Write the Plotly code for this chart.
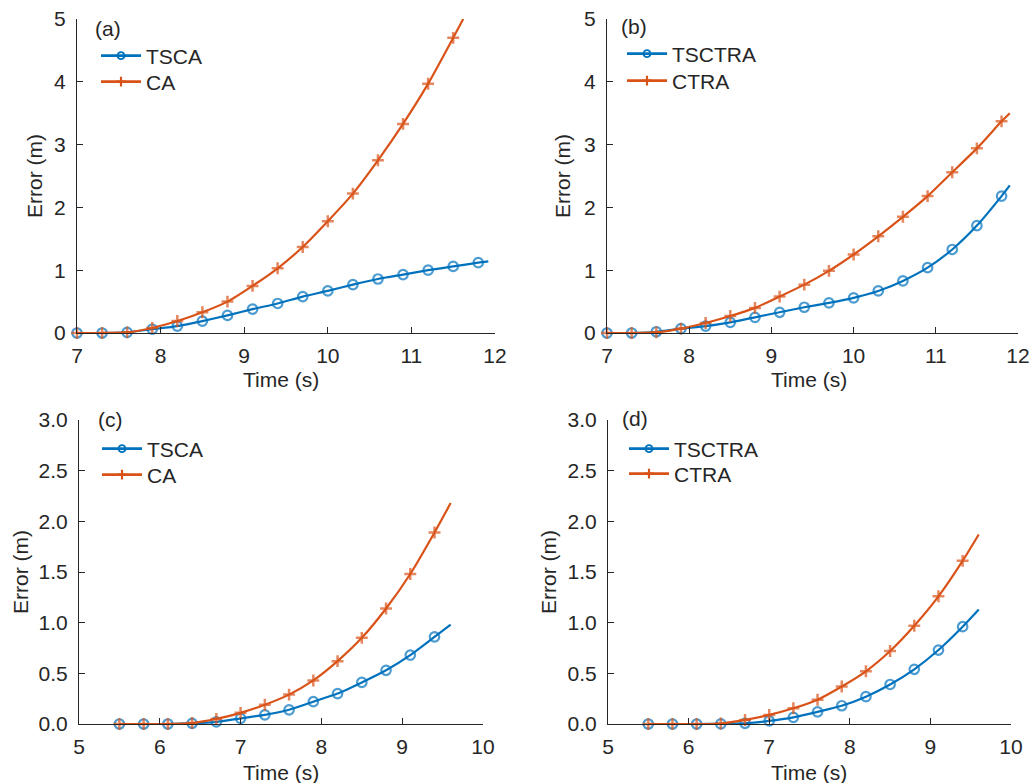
import plotly.graph_objects as go

W, H = 1029, 783

# ---------------- data ----------------
# panel (a)
t_a = [7.0, 7.3, 7.6, 7.9, 8.2, 8.5, 8.8, 9.1, 9.4, 9.7, 10.0, 10.3, 10.6, 10.9, 11.2, 11.5, 11.8, 11.92]
tsca_a = [0.0, 0.0, 0.01, 0.06, 0.11, 0.19, 0.28, 0.38, 0.47, 0.58, 0.67, 0.77, 0.86, 0.93, 1.0, 1.06, 1.12, 1.14]
t_a_ca = [7.0, 7.3, 7.6, 7.9, 8.2, 8.5, 8.8, 9.1, 9.4, 9.7, 10.0, 10.3, 10.6, 10.9, 11.2, 11.5, 11.62]
ca_a = [0.0, 0.0, 0.01, 0.08, 0.19, 0.33, 0.50, 0.75, 1.03, 1.37, 1.78, 2.22, 2.75, 3.33, 3.97, 4.70, 5.0]

# panel (b)
t_b = [7.0, 7.3, 7.6, 7.9, 8.2, 8.5, 8.8, 9.1, 9.4, 9.7, 10.0, 10.3, 10.6, 10.9, 11.2, 11.5, 11.8, 11.9]
tsctra_b = [0.0, 0.0, 0.02, 0.07, 0.11, 0.17, 0.25, 0.33, 0.41, 0.48, 0.56, 0.67, 0.83, 1.04, 1.33, 1.71, 2.18, 2.35]
ctra_b = [0.0, 0.0, 0.01, 0.07, 0.16, 0.27, 0.40, 0.58, 0.77, 0.99, 1.25, 1.54, 1.85, 2.18, 2.56, 2.94, 3.37, 3.50]

# panel (c)
t_c = [5.5, 5.8, 6.1, 6.4, 6.7, 7.0, 7.3, 7.6, 7.9, 8.2, 8.5, 8.8, 9.1, 9.4, 9.6]
tsca_c = [0.0, 0.0, 0.0, 0.007, 0.02, 0.056, 0.09, 0.14, 0.22, 0.30, 0.41, 0.53, 0.68, 0.86, 0.98]
ca_c = [0.0, 0.0, 0.0, 0.01, 0.05, 0.11, 0.19, 0.29, 0.43, 0.62, 0.85, 1.14, 1.48, 1.89, 2.18]

# panel (d)
t_d = [5.5, 5.8, 6.1, 6.4, 6.7, 7.0, 7.3, 7.6, 7.9, 8.2, 8.5, 8.8, 9.1, 9.4, 9.6]
tsctra_d = [0.0, 0.0, 0.0, 0.002, 0.007, 0.03, 0.066, 0.12, 0.18, 0.27, 0.39, 0.54, 0.73, 0.96, 1.13]
ctra_d = [0.0, 0.0, 0.0, 0.005, 0.04, 0.09, 0.155, 0.24, 0.37, 0.52, 0.72, 0.97, 1.26, 1.61, 1.87]

panel_labels = ["(a)", "(b)", "(c)", "(d)"]
x_title = "Time (s)"
y_title = "Error (m)"

# ---------------- style ----------------
BLUE = "#0072BD"
ORANGE = "#D95319"
AX = "#262626"
FONT = "Liberation Sans, Arial, Helvetica, sans-serif"
FS = 21


def px_x(p):
    return p / W


def px_y(p):
    return 1 - p / H


fig = go.Figure()

blue_line = dict(color=BLUE, width=2.2, shape="spline", smoothing=0.6)
orange_line = dict(color=ORANGE, width=2.2, shape="spline", smoothing=0.6)


def add_pair(t1, y1, t2, y2, n1, n2, xa, ya, leg1, leg2):
    s1 = [9.5] * (len(t1) - 1) + [0]
    s2 = [8.5] * (len(t2) - 1) + [0]
    fig.add_trace(go.Scatter(
        x=t1, y=y1, name=n1, mode="lines+markers", xaxis=xa, yaxis=ya, showlegend=False,
        line=blue_line,
        marker=dict(symbol="circle-open", size=s1, color=BLUE, line=dict(width=2.2, color=BLUE)),
        cliponaxis=False,
    ))
    fig.add_trace(go.Scatter(
        x=t2, y=y2, name=n2, mode="lines+markers", xaxis=xa, yaxis=ya, showlegend=False,
        line=orange_line,
        marker=dict(symbol="cross-thin-open", size=s2, color=ORANGE, line=dict(width=2.5, color=ORANGE)),
        cliponaxis=False,
    ))
    # legend entries (no data)
    fig.add_trace(go.Scatter(
        x=[None], y=[None], name=n1, mode="lines+markers", xaxis=xa, yaxis=ya, legend=leg1,
        line=dict(color=BLUE, width=2.6),
        marker=dict(symbol="circle-open", size=7, color=BLUE, line=dict(width=1.8, color=BLUE)),
    ))
    fig.add_trace(go.Scatter(
        x=[None], y=[None], name=n2, mode="lines+markers", xaxis=xa, yaxis=ya, legend=leg2,
        line=dict(color=ORANGE, width=2.6),
        marker=dict(symbol="cross-thin-open", size=7, color=ORANGE, line=dict(width=2.2, color=ORANGE)),
    ))


add_pair(t_a, tsca_a, t_a_ca, ca_a, "TSCA", "CA", "x", "y", "legend", "legend5")
add_pair(t_b, tsctra_b, t_b, ctra_b, "TSCTRA", "CTRA", "x2", "y2", "legend2", "legend6")
add_pair(t_c, tsca_c, t_c, ca_c, "TSCA", "CA", "x3", "y3", "legend3", "legend7")
add_pair(t_d, tsctra_d, t_d, ctra_d, "TSCTRA", "CTRA", "x4", "y4", "legend4", "legend8")

# panel geometry (pixels)
panels = {
    1: dict(x0=77, x1=495, y0=333, y1=19, xr=[7, 12], yr=[0, 5], fmt="d", dy=1),
    2: dict(x0=607, x1=1018, y0=333, y1=19, xr=[7, 12], yr=[0, 5], fmt="d", dy=1),
    3: dict(x0=79, x1=483, y0=724, y1=420, xr=[5, 10], yr=[0, 3], fmt=".1f", dy=0.5),
    4: dict(x0=608, x1=1011, y0=724, y1=420, xr=[5, 10], yr=[0, 3], fmt=".1f", dy=0.5),
}

common = dict(
    showline=True, linecolor=AX, linewidth=1.2, ticks="inside", ticklen=6,
    tickcolor=AX, tickwidth=1.2, showgrid=False, zeroline=False, automargin=False,
    tickfont=dict(size=FS, color=AX, family=FONT), ticklabeloverflow="allow",
)

for i, p in panels.items():
    sfx = "" if i == 1 else str(i)
    fig.update_layout(**{
        "xaxis" + sfx: dict(
            domain=[px_x(p["x0"]), px_x(p["x1"])], range=p["xr"], dtick=1,
            anchor="y" + sfx, ticklabelstandoff=4, **common),
        "yaxis" + sfx: dict(
            domain=[px_y(p["y0"]), px_y(p["y1"])], range=p["yr"], dtick=p["dy"],
            tickformat=p["fmt"], anchor="x" + sfx, ticklabelstandoff=6, **common),
    })

# axis titles as text placed by pixel
x_title_pos = [(281, 380), (809, 380), (281, 772), (809, 772)]
y_title_pos = [(35, 176), (563, 176), (20, 572), (548, 572)]
for (tx, ty) in x_title_pos:
    fig.add_annotation(text=x_title, x=px_x(tx), y=px_y(ty), xref="paper", yref="paper",
                       showarrow=False, xanchor="center", yanchor="middle",
                       font=dict(size=FS, color=AX, family=FONT))
for (tx, ty) in y_title_pos:
    fig.add_annotation(text=y_title, x=px_x(tx), y=px_y(ty), xref="paper", yref="paper",
                       showarrow=False, xanchor="center", yanchor="middle", textangle=-90,
                       font=dict(size=FS, color=AX, family=FONT))

# legends: one entry each, positioned by pixel (left of symbol, row centre)
leg_pos = {
    "legend": (96, 56), "legend5": (96, 82),
    "legend2": (622, 54), "legend6": (622, 81),
    "legend3": (97, 449), "legend7": (97, 475),
    "legend4": (624, 449), "legend8": (624, 474),
}
for k, (lx, ly) in leg_pos.items():
    fig.update_layout(**{k: dict(
        x=px_x(lx), y=px_y(ly), xanchor="left", yanchor="middle", bgcolor="rgba(0,0,0,0)",
        font=dict(size=FS, color=AX, family=FONT), itemwidth=40, tracegroupgap=0,
        borderwidth=0,
    )})

# panel labels
lab_pos = [(108, 28), (634, 27), (110, 419), (635, 418)]
for txt, (lx, ly) in zip(panel_labels, lab_pos):
    fig.add_annotation(text=txt, x=px_x(lx), y=px_y(ly), xref="paper", yref="paper",
                       showarrow=False, xanchor="center", yanchor="middle",
                       font=dict(size=FS, color=AX, family=FONT))

fig.update_layout(
    width=W, height=H,
    margin=dict(l=0, r=0, t=0, b=0, autoexpand=False), autosize=False,
    paper_bgcolor="white", plot_bgcolor="white",
    font=dict(family=FONT, size=FS, color=AX),
)

fig.write_html(
    "out.html",
    config={"displayModeBar": False},
    post_script=(
        "document.documentElement.style.overflow='hidden';"
        "document.body.style.overflow='hidden';"
        "document.body.style.margin='0';"
    ),
)
